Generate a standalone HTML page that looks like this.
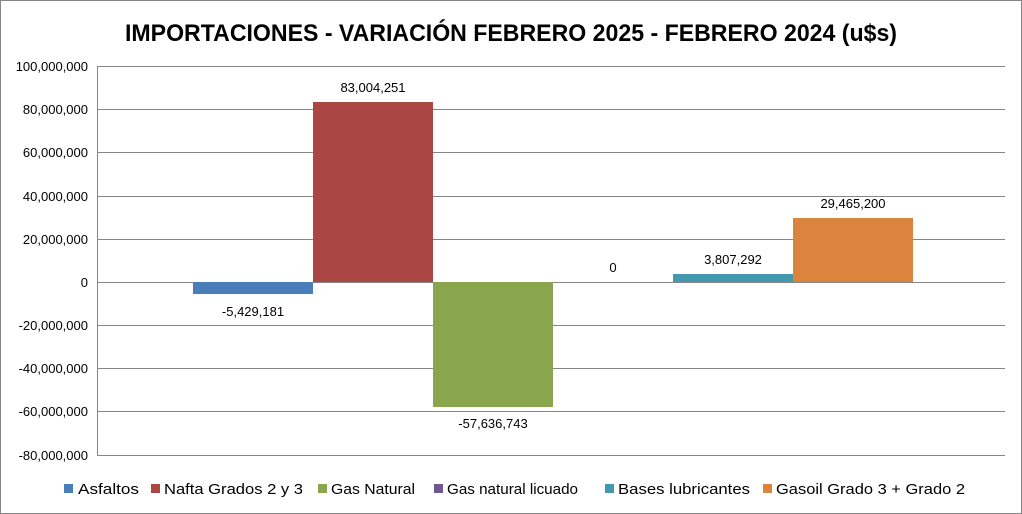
<!DOCTYPE html>
<html><head><meta charset="utf-8"><style>
html,body{margin:0;padding:0;background:#fff;}
svg{display:block;font-family:"Liberation Sans",sans-serif;}
</style></head><body>
<svg width="1022" height="514" viewBox="0 0 1022 514">
<rect x="0.5" y="0.5" width="1021" height="513" fill="#fff" stroke="#868686"/>
<text x="511" y="41" text-anchor="middle" font-size="24" font-weight="bold" textLength="772" lengthAdjust="spacingAndGlyphs">IMPORTACIONES - VARIACIÓN FEBRERO 2025 - FEBRERO 2024 (u$s)</text>
<g stroke="#868686" stroke-width="1">
<line x1="97" y1="66.5" x2="1005" y2="66.5"/>
<line x1="97" y1="109.5" x2="1005" y2="109.5"/>
<line x1="97" y1="152.5" x2="1005" y2="152.5"/>
<line x1="97" y1="196.5" x2="1005" y2="196.5"/>
<line x1="97" y1="239.5" x2="1005" y2="239.5"/>
<line x1="97" y1="282.5" x2="1005" y2="282.5"/>
<line x1="97" y1="325.5" x2="1005" y2="325.5"/>
<line x1="97" y1="368.5" x2="1005" y2="368.5"/>
<line x1="97" y1="411.5" x2="1005" y2="411.5"/>
<line x1="97" y1="455.5" x2="1005" y2="455.5"/>
<line x1="97.5" y1="66" x2="97.5" y2="455"/>
</g>
<g font-size="13" text-anchor="end" fill="#000">
<text x="88" y="71">100,000,000</text>
<text x="88" y="114">80,000,000</text>
<text x="88" y="157">60,000,000</text>
<text x="88" y="201">40,000,000</text>
<text x="88" y="244">20,000,000</text>
<text x="88" y="287">0</text>
<text x="88" y="330">-20,000,000</text>
<text x="88" y="373">-40,000,000</text>
<text x="88" y="416">-60,000,000</text>
<text x="88" y="460">-80,000,000</text>
</g>
<rect x="193" y="282" width="120" height="12" fill="#4a7ebb"/>
<rect x="313" y="102" width="120" height="180" fill="#aa4643"/>
<rect x="433" y="282" width="120" height="125" fill="#89a54e"/>
<rect x="673" y="274" width="120" height="8" fill="#4198af"/>
<rect x="793" y="218" width="120" height="64" fill="#db843d"/>
<g font-size="13" text-anchor="middle">
<text x="253" y="316">-5,429,181</text>
<text x="373" y="92">83,004,251</text>
<text x="493" y="428">-57,636,743</text>
<text x="613" y="272">0</text>
<text x="733" y="264">3,807,292</text>
<text x="853" y="208">29,465,200</text>
</g>
<g font-size="15">
<rect x="64" y="484" width="9" height="9" fill="#4a7ebb"/><text x="78" y="494" textLength="61" lengthAdjust="spacingAndGlyphs">Asfaltos</text>
<rect x="151" y="484" width="9" height="9" fill="#aa4643"/><text x="164" y="494" textLength="139" lengthAdjust="spacingAndGlyphs">Nafta Grados 2 y 3</text>
<rect x="318" y="484" width="9" height="9" fill="#89a54e"/><text x="331" y="494" textLength="84" lengthAdjust="spacingAndGlyphs">Gas Natural</text>
<rect x="434" y="484" width="9" height="9" fill="#71588f"/><text x="447" y="494" textLength="131" lengthAdjust="spacingAndGlyphs">Gas natural licuado</text>
<rect x="605" y="484" width="9" height="9" fill="#4198af"/><text x="618" y="494" textLength="132" lengthAdjust="spacingAndGlyphs">Bases lubricantes</text>
<rect x="763" y="484" width="9" height="9" fill="#db843d"/><text x="776" y="494" textLength="189" lengthAdjust="spacingAndGlyphs">Gasoil Grado 3 + Grado 2</text>
</g>
</svg>
</body></html>
